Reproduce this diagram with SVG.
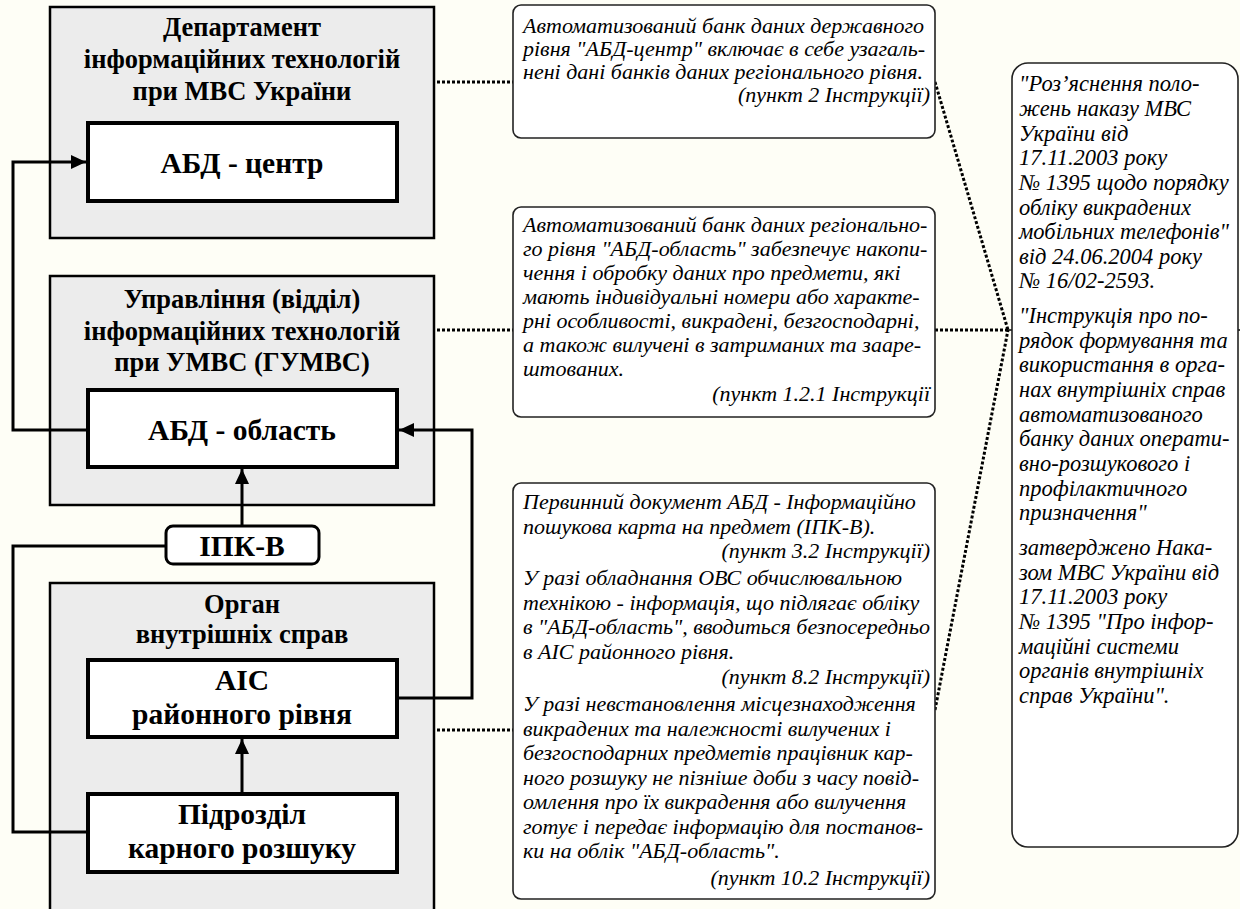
<svg xmlns="http://www.w3.org/2000/svg" width="1240" height="909" viewBox="0 0 1240 909">
<style>
.bg{fill:#fefef6}
.org{fill:#ececec;stroke:#000;stroke-width:2.5}
.unit{fill:#fff;stroke:#000;stroke-width:4}
.tag{fill:#fff;stroke:#000;stroke-width:3}
.note{fill:#fff;stroke:#222;stroke-width:1.6}
.t{font-family:"Liberation Serif","Times New Roman",serif;font-weight:bold;font-size:26.5px;text-anchor:middle;fill:#000}
.u{font-family:"Liberation Serif","Times New Roman",serif;font-weight:bold;font-size:29.5px;text-anchor:middle;fill:#000}
.n{font-family:"Liberation Serif","Times New Roman",serif;font-style:italic;font-size:22px;fill:#000}
.m{font-family:"Liberation Serif","Times New Roman",serif;font-style:italic;font-size:22.5px;fill:#000}
.r{text-anchor:end}
.line{fill:none;stroke:#000;stroke-width:3}
.dot{fill:none;stroke:#000;stroke-width:3;stroke-dasharray:3 2}
.thin{fill:none;stroke:#000;stroke-width:1.6}
</style>
<defs>
<marker id="ah" markerUnits="userSpaceOnUse" markerWidth="16" markerHeight="14" refX="15" refY="7" orient="auto">
<path d="M0,0 L15,7 L0,14 Z" fill="#000"/>
</marker>
</defs>
<rect class="bg" x="0" y="0" width="1240" height="909"/>

<g id="dept">
<rect class="org" x="50" y="7" width="384" height="231"/>
<text class="t" x="242" y="36">Департамент</text>
<text class="t" x="242" y="68">інформаційних технологій</text>
<text class="t" x="242" y="100">при МВС України</text>
</g>
<g id="abd-center">
<rect class="unit" x="88" y="123" width="309" height="78"/>
<text class="u" x="242" y="173">АБД - центр</text>
</g>

<g id="upr">
<rect class="org" x="50" y="276" width="384" height="229"/>
<text class="t" x="242" y="308">Управління (відділ)</text>
<text class="t" x="242" y="340">інформаційних технологій</text>
<text class="t" x="242" y="371">при УМВС (ГУМВС)</text>
</g>
<g id="abd-oblast">
<rect class="unit" x="88" y="390" width="309" height="77"/>
<text class="u" x="242" y="440">АБД - область</text>
</g>

<g id="ipk">
<rect class="tag" x="166" y="526" width="153" height="38" rx="7"/>
<text class="u" x="242" y="556">ІПК-В</text>
</g>

<g id="organ">
<rect class="org" x="50" y="583" width="384" height="335"/>
<text class="t" x="242" y="613">Орган</text>
<text class="t" x="242" y="643">внутрішніх справ</text>
</g>
<g id="ais">
<rect class="unit" x="88" y="660" width="309" height="77"/>
<text class="u" x="242" y="690">АІС</text>
<text class="u" x="242" y="724">районного рівня</text>
</g>
<g id="pidrozdil">
<rect class="unit" x="88" y="794" width="309" height="78"/>
<text class="u" x="242" y="824">Підрозділ</text>
<text class="u" x="242" y="858">карного розшуку</text>
</g>

<g id="connectors">
<path class="line" d="M88,430 H13 V162 H86" marker-end="url(#ah)"/>
<path class="line" d="M397,698 H472 V430 H399" marker-end="url(#ah)"/>
<path class="line" d="M242,526 V469" marker-end="url(#ah)"/>
<path class="line" d="M88,832 H13 V546 H166"/>
<path class="line" d="M242,794 V739" marker-end="url(#ah)"/>
<path class="dot" d="M437,82 H513"/>
<path class="dot" d="M437,330 H513"/>
<path class="dot" d="M437,730 H513"/>
<path class="dot" d="M935,82 L1008,330"/>
<path class="dot" d="M935,330 H1008"/>
<path class="dot" d="M935,710 L1008,330"/>
<path class="thin" d="M1008,330 H1240"/>
</g>

<g id="note1">
<rect class="note" x="513" y="5" width="422" height="133" rx="8"/>
<text class="n" x="523" y="33">Автоматизований банк даних державного</text>
<text class="n" x="523" y="56">рівня "АБД-центр" включає в себе узагаль-</text>
<text class="n" x="523" y="79">нені дані банків даних регіонального рівня.</text>
<text class="n r" x="930" y="102">(пункт 2 Інструкції)</text>
</g>

<g id="note2">
<rect class="note" x="513" y="207" width="422" height="210" rx="8"/>
<text class="n" x="523" y="232">Автоматизований банк даних регіонально-</text>
<text class="n" x="523" y="256">го рівня "АБД-область" забезпечує накопи-</text>
<text class="n" x="523" y="280">чення і обробку даних про предмети, які</text>
<text class="n" x="523" y="304">мають індивідуальні номери або характе-</text>
<text class="n" x="523" y="328">рні особливості, викрадені, безгосподарні,</text>
<text class="n" x="523" y="352">а також вилучені в затриманих та зааре-</text>
<text class="n" x="523" y="376">штованих.</text>
<text class="n r" x="930" y="401">(пункт 1.2.1 Інструкції</text>
</g>

<g id="note3">
<rect class="note" x="513" y="483" width="422" height="416" rx="8"/>
<text class="n" x="523" y="509">Первинний документ АБД - Інформаційно</text>
<text class="n" x="523" y="533.5">пошукова карта на предмет (ІПК-В).</text>
<text class="n r" x="930" y="558">(пункт 3.2 Інструкції)</text>
<text class="n" x="523" y="585">У разі обладнання ОВС обчислювальною</text>
<text class="n" x="523" y="609.5">технікою - інформація, що підлягає обліку</text>
<text class="n" x="523" y="634">в "АБД-область", вводиться безпосередньо</text>
<text class="n" x="523" y="658.5">в АІС районного рівня.</text>
<text class="n r" x="930" y="684">(пункт 8.2 Інструкції)</text>
<text class="n" x="523" y="711">У разі невстановлення місцезнаходження</text>
<text class="n" x="523" y="735.5">викрадених та належності вилучених і</text>
<text class="n" x="523" y="760">безгосподарних предметів працівник кар-</text>
<text class="n" x="523" y="784.5">ного розшуку не пізніше доби з часу повід-</text>
<text class="n" x="523" y="809">омлення про їх викрадення або вилучення</text>
<text class="n" x="523" y="833.5">готує і передає інформацію для постанов-</text>
<text class="n" x="523" y="858">ки на облік "АБД-область".</text>
<text class="n r" x="930" y="885">(пункт 10.2 Інструкції)</text>
</g>

<g id="note4">
<rect class="note" x="1012" y="63" width="226" height="784" rx="16"/>
<text class="m" x="1019" y="91">"Роз’яснення поло-</text>
<text class="m" x="1019" y="116">жень наказу МВС</text>
<text class="m" x="1019" y="141">України від</text>
<text class="m" x="1019" y="165">17.11.2003 року</text>
<text class="m" x="1019" y="190">№ 1395 щодо порядку</text>
<text class="m" x="1019" y="215">обліку викрадених</text>
<text class="m" x="1019" y="239">мобільних телефонів"</text>
<text class="m" x="1019" y="264">від 24.06.2004 року</text>
<text class="m" x="1019" y="288">№ 16/02-2593.</text>
<text class="m" x="1019" y="323">"Інструкція про по-</text>
<text class="m" x="1019" y="348">рядок формування та</text>
<text class="m" x="1019" y="372">використання в орга-</text>
<text class="m" x="1019" y="397">нах внутрішніх справ</text>
<text class="m" x="1019" y="422">автоматизованого</text>
<text class="m" x="1019" y="446">банку даних операти-</text>
<text class="m" x="1019" y="471">вно-розшукового і</text>
<text class="m" x="1019" y="496">профілактичного</text>
<text class="m" x="1019" y="520">призначення"</text>
<text class="m" x="1019" y="555">затверджено Нака-</text>
<text class="m" x="1019" y="580">зом МВС України від</text>
<text class="m" x="1019" y="604">17.11.2003 року</text>
<text class="m" x="1019" y="629">№ 1395 "Про інфор-</text>
<text class="m" x="1019" y="654">маційні системи</text>
<text class="m" x="1019" y="678">органів внутрішніх</text>
<text class="m" x="1019" y="703">справ України".</text>
</g>
</svg>
